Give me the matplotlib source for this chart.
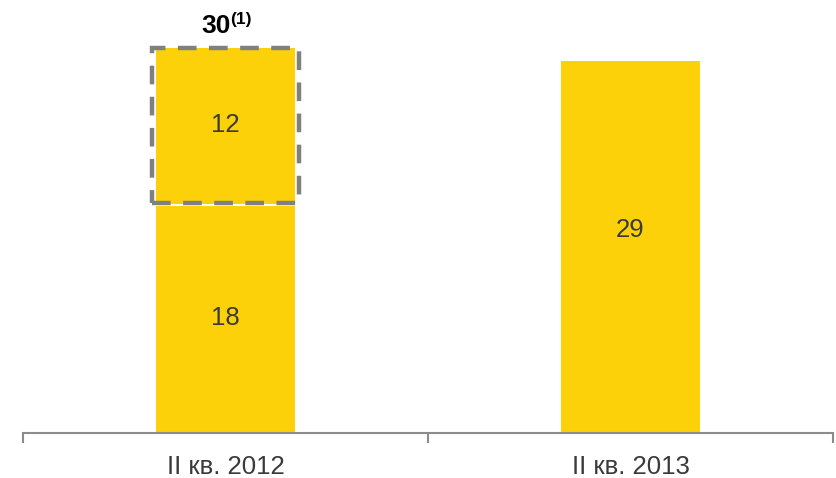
import matplotlib.pyplot as plt
from matplotlib.patches import Rectangle

plt.rcParams['font.family'] = ['Liberation Sans', 'DejaVu Sans']

categories = ['II кв. 2012', 'II кв. 2013']
base_values = [18, 29]
extra_values = [12, 0]
total_note = '(1)'

yellow = '#FDD10A'
text_col = '#3A3A3A'

fig = plt.figure(figsize=(8.36, 4.78), dpi=100)
ax = fig.add_axes([0.0275, 0.094, 0.969, 0.859])

x = [i + 0.5 for i in range(len(categories))]
width = 0.345

ax.bar(x, base_values, width=width, color=yellow)
ax.bar(x[0], extra_values[0], bottom=base_values[0], width=width, color=yellow)

# dashed frame around the added part of the first bar
ax.add_patch(Rectangle((x[0] - width / 2 - 0.008, base_values[0] - 0.05),
                       width + 0.016, extra_values[0] + 0.05, fill=False,
                       edgecolor='#808080', lw=3.2, linestyle=(0, (4.2, 2.8)),
                       joinstyle='miter', zorder=3))
# thin white gap between the two stacked parts
ax.axhline(base_values[0] - 0.2, xmin=(x[0] - width / 2) / 2, xmax=(x[0] + width / 2) / 2,
           color='white', lw=1.5, zorder=2)

fs = 18.5
ax.text(x[0], base_values[0] / 2, str(base_values[0]), ha='center', va='center',
        fontsize=fs, color=text_col)
ax.text(x[0], base_values[0] + extra_values[0] / 2, str(extra_values[0]), ha='center',
        va='center', fontsize=fs, color=text_col)
ax.text(x[1], base_values[1] * 0.545, str(base_values[1]), ha='center', va='center',
        fontsize=fs, color=text_col)

total = base_values[0] + extra_values[0]
ax.annotate(str(total), (x[0], total), xytext=(4, 7), textcoords='offset points',
            ha='right', va='bottom', fontsize=19, fontweight='bold', color='black')
ax.annotate(total_note, (x[0], total), xytext=(3.5, 15), textcoords='offset points',
            ha='left', va='bottom', fontsize=12.5, fontweight='bold', color='black')

ax.set_xlim(0, len(categories))
ax.set_ylim(0, 32)
ax.set_yticks([])
for s in ['top', 'right', 'left']:
    ax.spines[s].set_visible(False)
ax.spines['bottom'].set_color('#8C8C8C')
ax.spines['bottom'].set_linewidth(1.5)

ax.set_xticks(x)
ax.set_xticklabels(categories, fontsize=fs, color=text_col)
ax.tick_params(axis='x', which='major', length=0, pad=16)
ax.set_xticks(range(len(categories) + 1), minor=True)
ax.tick_params(axis='x', which='minor', length=7, width=1.5, color='#8C8C8C')

fig.savefig('out.png', dpi=100)
